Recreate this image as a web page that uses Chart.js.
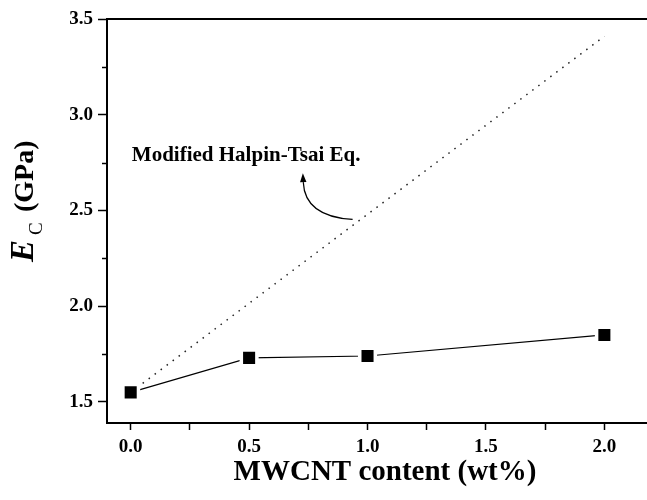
<!DOCTYPE html>
<html><head><meta charset="utf-8">
<script src="https://cdn.jsdelivr.net/npm/chart.js@4.4.1/dist/chart.umd.min.js"></script>
<style>html,body{margin:0;padding:0;background:#fff;overflow:hidden}#wrap{width:647px;height:500px;position:relative}</style>
</head><body><div id="wrap"><canvas id="c" width="647" height="500"></canvas></div>
<script>
const mwcntContent = [0.0, 0.5, 1.0, 2.0];
const ecMeasured = [1.55, 1.73, 1.74, 1.85];
const halpinTsaiContent = [0.0, 2.0];
const halpinTsaiEc = [1.55, 3.41];
const xMajorTicks = [0.0, 0.5, 1.0, 1.5, 2.0];
const xMinorTicks = [0.25, 0.75, 1.25, 1.75];
const yMajorTicks = [1.5, 2.0, 2.5, 3.0, 3.5];
const yMinorTicks = [1.75, 2.25, 2.75, 3.25];
const xTitle = 'MWCNT content (wt%)';
const yTitleSymbol = 'E', yTitleSub = 'C', yTitleUnit = '(GPa)';
const annotationText = 'Modified Halpin-Tsai Eq.';

const FONT = "'Liberation Serif', 'Times New Roman', serif";

const decor = {
  id: 'decor',
  afterDraw(chart) {
    const {ctx, chartArea: ca, scales: {x, y}} = chart;
    ctx.save();
    // top border
    ctx.strokeStyle = '#000'; ctx.lineWidth = 2;
    ctx.beginPath(); ctx.moveTo(ca.left - 1, ca.top); ctx.lineTo(ca.right + 2, ca.top); ctx.stroke();
    // y minor ticks (shorter)
    ctx.lineWidth = 1.5;
    yMinorTicks.forEach(v => {
      const py = Math.round(y.getPixelForValue(v)) + 0.5;
      ctx.beginPath(); ctx.moveTo(ca.left - 5, py); ctx.lineTo(ca.left, py); ctx.stroke();
    });
    // annotation text
    ctx.fillStyle = '#000';
    ctx.font = 'bold 21px ' + FONT;
    ctx.textAlign = 'left'; ctx.textBaseline = 'alphabetic';
    ctx.fillText(annotationText, x.getPixelForValue(0.005), y.getPixelForValue(2.758));
    // curved arrow
    const sx = x.getPixelForValue(0.937), sy = y.getPixelForValue(2.453);
    const cx = x.getPixelForValue(0.735), cy = y.getPixelForValue(2.468);
    const tx = x.getPixelForValue(0.727), ty = y.getPixelForValue(2.695);
    const ang = Math.atan2(ty - cy, tx - cx);
    const hl = 9, hw = 3.2;
    const bx = tx - hl * Math.cos(ang), by = ty - hl * Math.sin(ang);
    ctx.lineWidth = 1.2;
    ctx.beginPath(); ctx.moveTo(sx, sy); ctx.quadraticCurveTo(cx, cy, bx, by); ctx.stroke();
    ctx.beginPath();
    ctx.moveTo(tx, ty);
    ctx.lineTo(bx + hw * Math.sin(ang), by - hw * Math.cos(ang));
    ctx.lineTo(bx - hw * Math.sin(ang), by + hw * Math.cos(ang));
    ctx.closePath(); ctx.fill();
    // x title
    ctx.font = 'bold 29px ' + FONT;
    ctx.textAlign = 'center';
    ctx.fillText(xTitle, 385, 480);
    // y title (rotated)
    ctx.translate(33, 262);
    ctx.rotate(-Math.PI / 2);
    ctx.textAlign = 'left';
    ctx.font = 'italic bold 33px ' + FONT;
    ctx.fillText(yTitleSymbol, 0, 0);
    ctx.font = '19px ' + FONT;
    ctx.fillText(yTitleSub, 27, 9);
    ctx.font = 'bold 28px ' + FONT;
    ctx.fillText(yTitleUnit, 50, 0);
    ctx.restore();
  }
};

const tickFont = {family: FONT, weight: 'bold', size: 19};

new Chart(document.getElementById('c'), {
  type: 'scatter',
  data: {
    datasets: [
      {
        label: 'Measured',
        data: mwcntContent.map((v, i) => ({x: v, y: ecMeasured[i]})),
        showLine: true,
        borderColor: '#000',
        borderWidth: 1.2,
        pointStyle: 'rect',
        pointRadius: 11,
        pointBackgroundColor: '#000',
        pointBorderColor: '#fff',
        pointBorderWidth: 3.5,
        tension: 0
      },
      {
        label: 'Modified Halpin-Tsai Eq.',
        data: halpinTsaiContent.map((v, i) => ({x: v, y: halpinTsaiEc[i]})),
        showLine: true,
        borderColor: '#222',
        borderWidth: 1.5,
        borderDash: [1.5, 6],
        pointRadius: 0,
        tension: 0
      }
    ]
  },
  options: {
    responsive: false,
    animation: false,
    devicePixelRatio: 1,
    layout: {autoPadding: false, padding: {left: 0, top: 19, right: 0, bottom: 0}},
    plugins: {legend: {display: false}, tooltip: {enabled: false}},
    scales: {
      x: {
        type: 'linear',
        min: -0.1, max: 2.18,
        afterBuildTicks: s => { s.ticks = [...xMajorTicks, ...xMinorTicks].sort((a, b) => a - b).map(v => ({value: v})); },
        afterFit: s => { s.height = 77; },
        ticks: {
          font: tickFont, color: '#000', padding: 6, maxRotation: 0, autoSkip: false,
          callback: v => xMajorTicks.includes(v) ? v.toFixed(1) : ''
        },
        grid: {drawOnChartArea: false, drawTicks: true, tickLength: 7, tickWidth: 1.5, tickColor: '#000'},
        border: {display: true, color: '#000', width: 2}
      },
      y: {
        type: 'linear',
        min: 1.39, max: 3.5,
        afterBuildTicks: s => { s.ticks = [...yMajorTicks, ...yMinorTicks].sort((a, b) => a - b).map(v => ({value: v})); },
        afterFit: s => { s.width = 107; },
        ticks: {
          font: tickFont, color: '#000', padding: 5, autoSkip: false,
          callback: v => yMajorTicks.includes(v) ? v.toFixed(1) : ''
        },
        grid: {
          drawOnChartArea: false, drawTicks: true, tickLength: 9, tickWidth: 1.5,
          tickColor: c => (c.tick && yMajorTicks.includes(c.tick.value)) ? '#000' : 'rgba(0,0,0,0)'
        },
        border: {display: true, color: '#000', width: 2}
      }
    }
  },
  plugins: [decor]
});
</script>
</body></html>
